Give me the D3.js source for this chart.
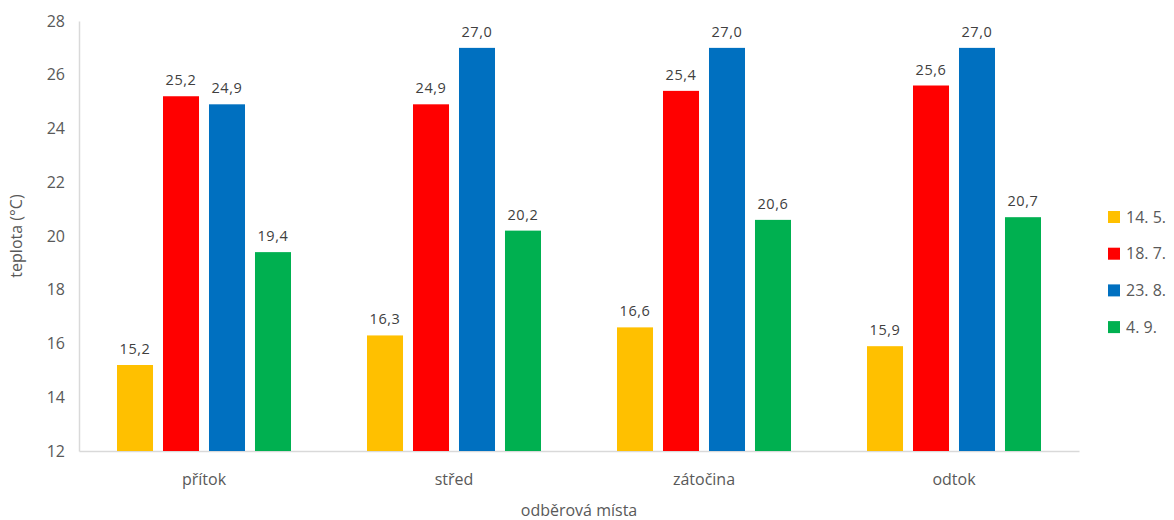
<!DOCTYPE html>
<html><head><meta charset="utf-8">
<script src="https://cdn.jsdelivr.net/npm/d3@7"></script>
<style>body{margin:0;background:#fff}svg{display:block}</style>
</head><body><svg id="c" width="1174" height="520"></svg>
<script>
const categories = ["přítok", "střed", "zátočina", "odtok"];
const seriesNames = ["14. 5.", "18. 7.", "23. 8.", "4. 9."];
const s1405 = [15.2, 16.3, 16.6, 15.9];
const s1807 = [25.2, 24.9, 25.4, 25.6];
const s2308 = [24.9, 27.0, 27.0, 27.0];
const s0409 = [19.4, 20.2, 20.6, 20.7];
const colors = ["#FFC000", "#FF0000", "#0070C0", "#00B050"];
const yTicks = [12, 14, 16, 18, 20, 22, 24, 26, 28];
const seriesVals = [s1405, s1807, s2308, s0409];

const svg = d3.select("#c");
const L = 79, R = 1079, T = 21, B = 451;
const font = "'Open Sans', sans-serif";
const x0 = d3.scaleBand().domain(categories).range([L, R]).paddingInner(0.304).paddingOuter(0.152);
const x1 = d3.scaleBand().domain(seriesNames).range([0, x0.bandwidth()]).paddingInner(0.217).paddingOuter(0);
const y = d3.scaleLinear().domain([12, 28]).range([B, T]);

// axes
const ya = svg.append("g").attr("transform", `translate(${L},0)`)
  .call(d3.axisLeft(y).tickValues(yTicks).tickSize(0).tickPadding(14).tickFormat(d3.format("d")));
ya.select(".domain").attr("stroke", "#d9d9d9").attr("stroke-width", 1.5);
ya.selectAll("text").attr("font-family", font).attr("font-size", 16).attr("fill", "#595959");

const xa = svg.append("g").attr("transform", `translate(0,${B})`)
  .call(d3.axisBottom(x0).tickSize(0).tickPadding(23));
xa.select(".domain").attr("stroke", "#d9d9d9").attr("stroke-width", 1.5);
xa.selectAll("text").attr("font-family", font).attr("font-size", 16).attr("fill", "#595959");

// bars
categories.forEach((c, ci) => {
  seriesNames.forEach((s, si) => {
    const v = seriesVals[si][ci];
    const bx = x0(c) + x1(s);
    svg.append("rect").attr("x", bx).attr("y", y(v)).attr("width", x1.bandwidth())
      .attr("height", y(12) - y(v)).attr("fill", colors[si]);
    svg.append("text").attr("x", bx + x1.bandwidth() / 2).attr("y", y(v) - 11)
      .attr("text-anchor", "middle").attr("font-family", font).attr("font-size", 14.5)
      .attr("letter-spacing", 0.6).attr("fill", "#404040")
      .text(v.toFixed(1).replace(".", ","));
  });
});

// axis titles
svg.append("text").attr("transform", "translate(22,236) rotate(-90)").attr("text-anchor", "middle")
  .attr("font-family", font).attr("font-size", 16).attr("fill", "#595959").text("teplota (°C)");
svg.append("text").attr("x", 579).attr("y", 516).attr("text-anchor", "middle")
  .attr("font-family", font).attr("font-size", 16).attr("fill", "#595959").text("odběrová místa");

// legend
seriesNames.forEach((s, i) => {
  const cy = 217 + i * 36.7;
  svg.append("rect").attr("x", 1108).attr("y", cy - 6).attr("width", 12).attr("height", 12).attr("fill", colors[i]);
  svg.append("text").attr("x", 1126).attr("y", cy).attr("dy", "0.35em")
    .attr("font-family", font).attr("font-size", 16).attr("fill", "#595959").text(s);
});
</script></body></html>
